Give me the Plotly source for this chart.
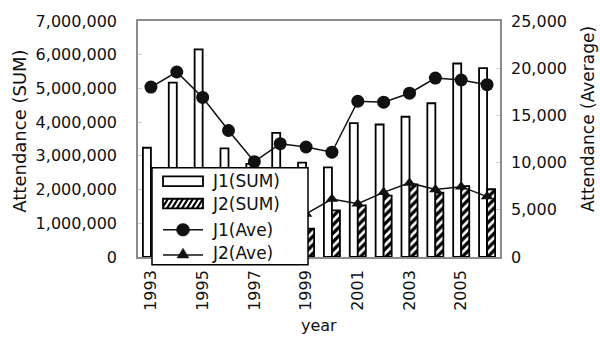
import plotly.graph_objects as go

# Attendance data, J.League 1993-2006
years = ["1993", "1994", "1995", "1996", "1997", "1998", "1999",
         "2000", "2001", "2002", "2003", "2004", "2005", "2006"]
tick_years = ["1993", "1995", "1997", "1999", "2001", "2003", "2005"]

j1_sum = [3240000, 5170000, 6160000, 3220000, 2760000, 3680000, 2800000,
          2660000, 3970000, 3930000, 4160000, 4560000, 5740000, 5600000]
j2_sum = [None, None, None, None, None, None, 840000,
          1380000, 1530000, 1820000, 2150000, 1910000, 2100000, 2010000]
j1_ave = [18000, 19600, 16900, 13400, 10100, 12000, 11650,
          11100, 16500, 16400, 17350, 18950, 18750, 18250]
j2_ave = [None, None, None, None, None, None, 4560,
          6140, 5650, 6850, 7850, 7150, 7450, 6400]

series_names = ["J1(SUM)", "J2(SUM)", "J1(Ave)", "J2(Ave)"]

FONT = "DejaVu Sans"
INK = "#111111"
FRAME = "#8c8c8c"

W, H = 600, 342
ML, MR, MT, MB = 138, 100, 14, 85
PW, PH = W - ML - MR, H - MT - MB


def px(x):
    """Pixel column -> paper x."""
    return (x - ML) / PW


def py(y):
    """Pixel row -> paper y."""
    return (H - MB - y) / PH


fig = go.Figure()
fig.add_bar(
    x=years, y=j1_sum, name=series_names[0], showlegend=False,
    marker=dict(color="white", line=dict(color="black", width=1.8)),
)
fig.add_bar(
    x=years, y=j2_sum, name=series_names[1], showlegend=False,
    marker=dict(
        color="white",
        pattern=dict(shape="/", fgcolor="black", bgcolor="white", size=6,
                     solidity=0.55, fgopacity=1),
        line=dict(color="black", width=1.8),
    ),
)
fig.add_scatter(
    x=years, y=j1_ave, name=series_names[2], yaxis="y2", mode="lines+markers",
    showlegend=False, line=dict(color=INK, width=1.5),
    marker=dict(symbol="circle", size=13, color=INK),
)
fig.add_scatter(
    x=years, y=j2_ave, name=series_names[3], yaxis="y2", mode="lines+markers",
    showlegend=False, line=dict(color=INK, width=1.5),
    marker=dict(symbol="triangle-up", size=11, color=INK),
)

# ---- legend box drawn with shapes (wide swatches) ----
shapes = []
shapes.append(dict(type="rect", xref="paper", yref="paper", layer="above",
                   x0=px(152), x1=px(308), y0=py(265), y1=py(165),
                   fillcolor="white", line=dict(color="black", width=1.5)))

sw_x0, sw_x1 = 163, 203
row_y = [179, 202, 229, 253]

# open bar swatch
shapes.append(dict(type="rect", xref="paper", yref="paper", layer="above",
                   x0=px(sw_x0), x1=px(sw_x1), y0=py(row_y[0] + 5), y1=py(row_y[0] - 5),
                   fillcolor="white", line=dict(color="black", width=1.8)))

# hatched bar swatch
ht, hb = row_y[1] - 5, row_y[1] + 5
slant = 6.0
segs = []
x = sw_x0 - slant
while x < sw_x1:
    xa, ya, xb, yb = x, hb, x + slant, ht
    if xa < sw_x0:
        t = (sw_x0 - xa) / slant
        xa, ya = sw_x0, hb + t * (ht - hb)
    if xb > sw_x1:
        t = (sw_x1 - x) / slant
        xb, yb = sw_x1, hb + t * (ht - hb)
    segs.append(f"M{px(xa):.5f},{py(ya):.5f}L{px(xb):.5f},{py(yb):.5f}")
    x += 5.0
shapes.append(dict(type="rect", xref="paper", yref="paper", layer="above",
                   x0=px(sw_x0), x1=px(sw_x1), y0=py(hb), y1=py(ht),
                   fillcolor="white", line=dict(width=0)))
shapes.append(dict(type="path", xref="paper", yref="paper", layer="above",
                   path="".join(segs), line=dict(color="black", width=2.2)))
shapes.append(dict(type="rect", xref="paper", yref="paper", layer="above",
                   x0=px(sw_x0), x1=px(sw_x1), y0=py(hb), y1=py(ht),
                   line=dict(color="black", width=1.8)))

# line + circle swatch
cx = (sw_x0 + sw_x1) / 2
shapes.append(dict(type="line", xref="paper", yref="paper", layer="above",
                   x0=px(sw_x0), x1=px(sw_x1), y0=py(row_y[2]), y1=py(row_y[2]),
                   line=dict(color=INK, width=1.5)))
shapes.append(dict(type="circle", xref="paper", yref="paper", layer="above",
                   x0=px(cx - 6.5), x1=px(cx + 6.5), y0=py(row_y[2] + 6.5), y1=py(row_y[2] - 6.5),
                   fillcolor=INK, line=dict(color=INK, width=0.5)))

# line + triangle swatch
ly = row_y[3] + 2
shapes.append(dict(type="line", xref="paper", yref="paper", layer="above",
                   x0=px(sw_x0), x1=px(sw_x1), y0=py(ly), y1=py(ly),
                   line=dict(color=INK, width=1.5)))
tri = (f"M{px(cx):.5f},{py(ly - 7):.5f}"
       f"L{px(cx - 6):.5f},{py(ly + 3):.5f}"
       f"L{px(cx + 6):.5f},{py(ly + 3):.5f}Z")
shapes.append(dict(type="path", xref="paper", yref="paper", layer="above",
                   path=tri, fillcolor=INK, line=dict(color=INK, width=0.5)))

annotations = [
    dict(text=name, xref="paper", yref="paper", x=px(210), y=py(ry),
         xanchor="left", yanchor="middle", showarrow=False,
         font=dict(size=17, color=INK))
    for name, ry in zip(series_names, row_y)
]
annotations += [
    dict(text="Attendance (SUM)", xref="paper", yref="paper", x=px(20), y=py(128),
         xanchor="center", yanchor="middle", textangle=-90, showarrow=False,
         font=dict(size=18, color=INK)),
    dict(text="Attendance (Average)", xref="paper", yref="paper", x=px(588), y=py(115),
         xanchor="center", yanchor="middle", textangle=-90, showarrow=False,
         font=dict(size=17, color=INK)),
    dict(text="year", xref="paper", yref="paper", x=0.5, y=py(328),
         xanchor="center", yanchor="middle", showarrow=False,
         font=dict(size=16, color=INK)),
]

fig.update_layout(
    width=W, height=H,
    margin=dict(l=ML, r=MR, t=MT, b=MB),
    paper_bgcolor="white", plot_bgcolor="white",
    font=dict(family=FONT, size=16, color=INK),
    barmode="group", bargap=0.38, bargroupgap=0,
    showlegend=False,
    xaxis=dict(
        type="category", range=[-0.5, len(years) - 0.5],
        tickmode="array", tickvals=tick_years, ticktext=tick_years,
        tickangle=-90, showline=True, mirror=True, linecolor=FRAME, linewidth=1.5,
        ticks="", showgrid=False, tickfont=dict(size=16), ticklabelstandoff=5,
    ),
    yaxis=dict(
        range=[0, 7000000], dtick=1000000, tickformat=",d",
        showgrid=False, zeroline=False, showline=True, mirror=True,
        linecolor=FRAME, linewidth=1.5,
        ticks="inside", ticklen=4, tickcolor="#cfcfcf", ticklabelstandoff=16,
    ),
    yaxis2=dict(
        overlaying="y", side="right", range=[0, 25000], dtick=5000, tickformat=",d",
        showgrid=False, zeroline=False, showline=False,
        ticks="inside", ticklen=4, tickcolor="#cfcfcf", ticklabelstandoff=10,
    ),
    shapes=shapes,
    annotations=annotations,
)

fig.write_html("out.html")
